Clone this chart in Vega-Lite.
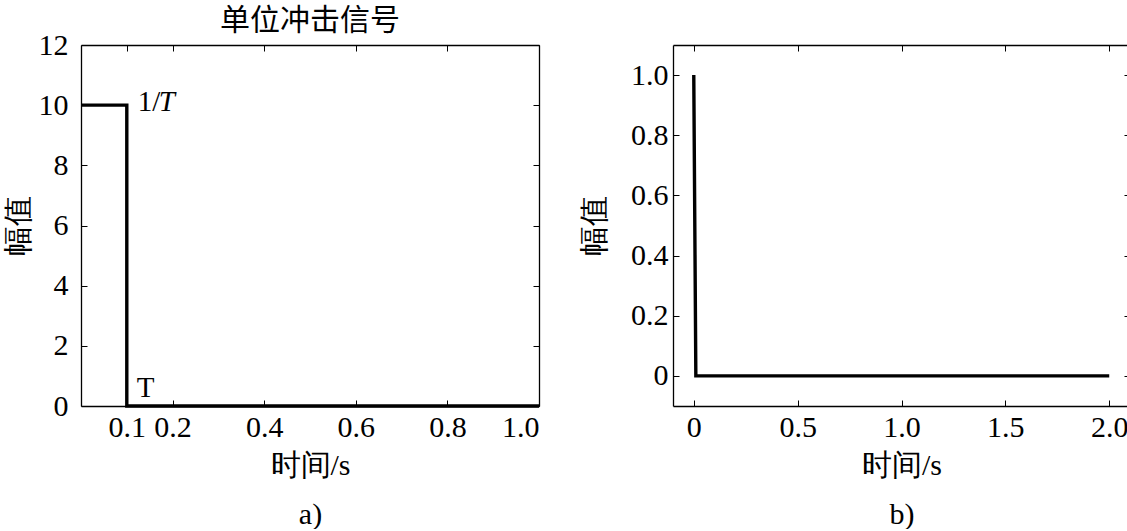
{
  "$schema": "https://vega.github.io/schema/vega-lite/v6.json",
  "background": "white",
  "padding": {"left": 3, "top": 6, "right": 0, "bottom": 0},
  "bounds": "flush",
  "spacing": 134,
  "config": {
    "view": {"stroke": null},
    "axis": {
      "grid": false,
      "domainColor": "black",
      "domainWidth": 1.3,
      "tickColor": "black",
      "tickWidth": 1,
      "tickSize": -6,
      "labelFont": "Liberation Serif",
      "labelFontSize": 30,
      "labelColor": "black",
      "titleFont": "Liberation Serif",
      "titleFontSize": 30,
      "titleFontWeight": "normal",
      "titleColor": "black"
    },
    "title": {"font": "Noto Sans CJK SC", "fontSize": 30, "fontWeight": "normal", "color": "black"}
  },
  "hconcat": [
    {
      "width": 458,
      "height": 361,
      "title": {"text": "单位冲击信号", "offset": -6},
      "resolve": {"axis": {"x": "independent", "y": "independent"}},
      "layer": [
        {
          "data": {"values": [
            {"t": 0, "v": 10, "i": 0},
            {"t": 0.1, "v": 10, "i": 1},
            {"t": 0.1, "v": 0, "i": 2},
            {"t": 1.0, "v": 0, "i": 3}
          ]},
          "mark": {"type": "line", "color": "black", "strokeWidth": 3.4},
          "encoding": {
            "x": {"field": "t", "type": "quantitative", "scale": {"domain": [0, 1], "nice": false, "zero": false},
              "axis": {"orient": "bottom", "values": [0.1, 0.2, 0.4, 0.6, 0.8, 1.0], "format": ".1f", "labelPadding": 12,
                "title": ["时间/s", "a)"], "titleLineHeight": 49, "titlePadding": 8}},
            "y": {"field": "v", "type": "quantitative", "scale": {"domain": [0, 12], "nice": false},
              "axis": {"orient": "left", "values": [0, 2, 4, 6, 8, 10, 12], "labelPadding": 19, "title": "幅值", "titlePadding": 5}},
            "order": {"field": "i", "type": "quantitative"}
          }
        },
        {
          "data": {"values": [
            {"t": 0, "v": 10, "i": 0},
            {"t": 1.0, "v": 0, "i": 3}
          ]},
          "mark": {"type": "line", "strokeOpacity": 0},
          "encoding": {
            "x": {"field": "t", "type": "quantitative", "axis": {"orient": "top", "values": [0.1, 0.2, 0.4, 0.6, 0.8, 1.0], "labels": false, "title": null}},
            "y": {"field": "v", "type": "quantitative", "axis": {"orient": "right", "values": [0, 2, 4, 6, 8, 10, 12], "labels": false, "title": null}}
          }
        },
        {
          "data": {"values": [{"t": 0.1, "v": 10, "label": "1/"}]},
          "mark": {"type": "text", "align": "left", "baseline": "middle", "dx": 11, "dy": -3, "font": "Liberation Serif", "fontSize": 29, "color": "black"},
          "encoding": {
            "x": {"field": "t", "type": "quantitative", "axis": null},
            "y": {"field": "v", "type": "quantitative", "axis": null},
            "text": {"field": "label"}
          }
        },
        {
          "data": {"values": [{"t": 0.1, "v": 10, "label": "T"}]},
          "mark": {"type": "text", "align": "left", "baseline": "middle", "dx": 32, "dy": -3, "font": "Liberation Serif", "fontStyle": "italic", "fontSize": 29, "color": "black"},
          "encoding": {
            "x": {"field": "t", "type": "quantitative", "axis": null},
            "y": {"field": "v", "type": "quantitative", "axis": null},
            "text": {"field": "label"}
          }
        },
        {
          "data": {"values": [{"t": 0.1, "v": 0, "label": "T"}]},
          "mark": {"type": "text", "align": "left", "baseline": "alphabetic", "dx": 10, "dy": -9, "font": "Liberation Serif", "fontSize": 29, "color": "black"},
          "encoding": {
            "x": {"field": "t", "type": "quantitative", "axis": null},
            "y": {"field": "v", "type": "quantitative", "axis": null},
            "text": {"field": "label"}
          }
        }
      ]
    },
    {
      "width": 457,
      "height": 361,
      "resolve": {"axis": {"x": "independent", "y": "independent"}},
      "layer": [
        {
          "data": {"values": [
            {"t": 0, "v": 1, "i": 0},
            {"t": 0.01, "v": 0, "i": 1},
            {"t": 2.0, "v": 0, "i": 2}
          ]},
          "mark": {"type": "line", "color": "black", "strokeWidth": 3.4},
          "encoding": {
            "x": {"field": "t", "type": "quantitative", "scale": {"domain": [-0.1, 2.1], "nice": false, "zero": false},
              "axis": {"orient": "bottom", "values": [0, 0.5, 1.0, 1.5, 2.0], "labelExpr": "datum.value == 0 ? '0' : format(datum.value, '.1f')", "labelPadding": 12,
                "title": ["时间/s", "b)"], "titleLineHeight": 49, "titlePadding": 8}},
            "y": {"field": "v", "type": "quantitative", "scale": {"domain": [-0.1, 1.1], "nice": false, "zero": false},
              "axis": {"orient": "left", "values": [0, 0.2, 0.4, 0.6, 0.8, 1.0], "labelExpr": "datum.value == 0 ? '0' : format(datum.value, '.1f')", "labelPadding": 11, "title": "幅值", "titlePadding": 21}},
            "order": {"field": "i", "type": "quantitative"}
          }
        },
        {
          "data": {"values": [
            {"t": 0, "v": 1, "i": 0},
            {"t": 2.0, "v": 0, "i": 2}
          ]},
          "mark": {"type": "line", "strokeOpacity": 0},
          "encoding": {
            "x": {"field": "t", "type": "quantitative", "axis": {"orient": "top", "values": [0, 0.5, 1.0, 1.5, 2.0], "labels": false, "title": null}},
            "y": {"field": "v", "type": "quantitative", "axis": {"orient": "right", "values": [0, 0.2, 0.4, 0.6, 0.8, 1.0], "labels": false, "title": null}}
          }
        }
      ]
    }
  ]
}
